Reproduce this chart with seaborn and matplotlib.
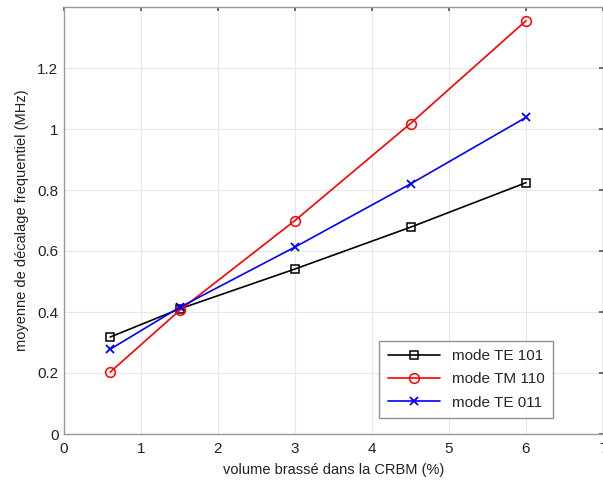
import matplotlib
matplotlib.use("Agg")
import matplotlib.pyplot as plt
import seaborn as sns
import pandas as pd

volume = [0.6, 1.5, 3.0, 4.5, 6.0]
te101 = [0.318, 0.41, 0.541, 0.678, 0.824]
tm110 = [0.203, 0.405, 0.70, 1.018, 1.355]
te011 = [0.278, 0.415, 0.613, 0.82, 1.038]
labels = ["mode TE 101", "mode TM 110", "mode TE 011"]

sns.set_theme(style="whitegrid")
plt.rcParams["font.family"] = ["Liberation Sans", "DejaVu Sans"]

fig = plt.figure(figsize=(6.03, 4.82), dpi=100)
ax = fig.add_axes([64 / 603, 48 / 482, 539 / 603, 427 / 482])

series = [te101, tm110, te011]
styles = [
    dict(color="black", marker="s", markersize=5.5, markerfacecolor="none", markeredgecolor="black", markeredgewidth=1.1),
    dict(color="red", marker="o", markersize=7, markerfacecolor="none", markeredgecolor="red", markeredgewidth=1.1),
    dict(color="blue", marker="x", markersize=5.5, markeredgecolor="blue", markeredgewidth=1.3),
]
for vals, lab, st in zip(series, labels, styles):
    df = pd.DataFrame({"x": volume, "y": vals})
    sns.lineplot(data=df, x="x", y="y", ax=ax, label=lab, linewidth=1.2, **st)

ax.set_xlim(0, 7)
ax.set_ylim(0, 1.4)
ax.set_xticks(range(0, 8))
ax.set_yticks([0, 0.2, 0.4, 0.6, 0.8, 1.0, 1.2])
ax.set_yticklabels(["0", "0.2", "0.4", "0.6", "0.8", "1", "1.2"])
ax.set_xlabel("volume brassé dans la CRBM (%)", fontsize=10.5, color="#222222", labelpad=5)
ax.set_ylabel("moyenne de décalage frequentiel (MHz)", fontsize=10.5, color="#222222", labelpad=6)
ax.tick_params(axis="both", labelsize=11, colors="#555555", labelcolor="#222222",
               length=3, direction="in", top=True, right=True)
ax.tick_params(axis="x", pad=6)
ax.tick_params(axis="y", pad=4)
ax.grid(True, color="#e8e8e8", linewidth=0.8)
for sp in ax.spines.values():
    sp.set_color("#999999")
    sp.set_linewidth(1.0)

leg = ax.legend(loc="lower right", bbox_to_anchor=((553 - 64) / 539, (482 - 418 - 48) / 427),
                borderaxespad=0, fontsize=11, frameon=True, fancybox=False,
                handlelength=3.4, borderpad=0.55, labelspacing=0.6)
leg.get_frame().set_edgecolor("#777777")
leg.get_frame().set_linewidth(1.0)

fig.savefig("out.png", dpi=100)
